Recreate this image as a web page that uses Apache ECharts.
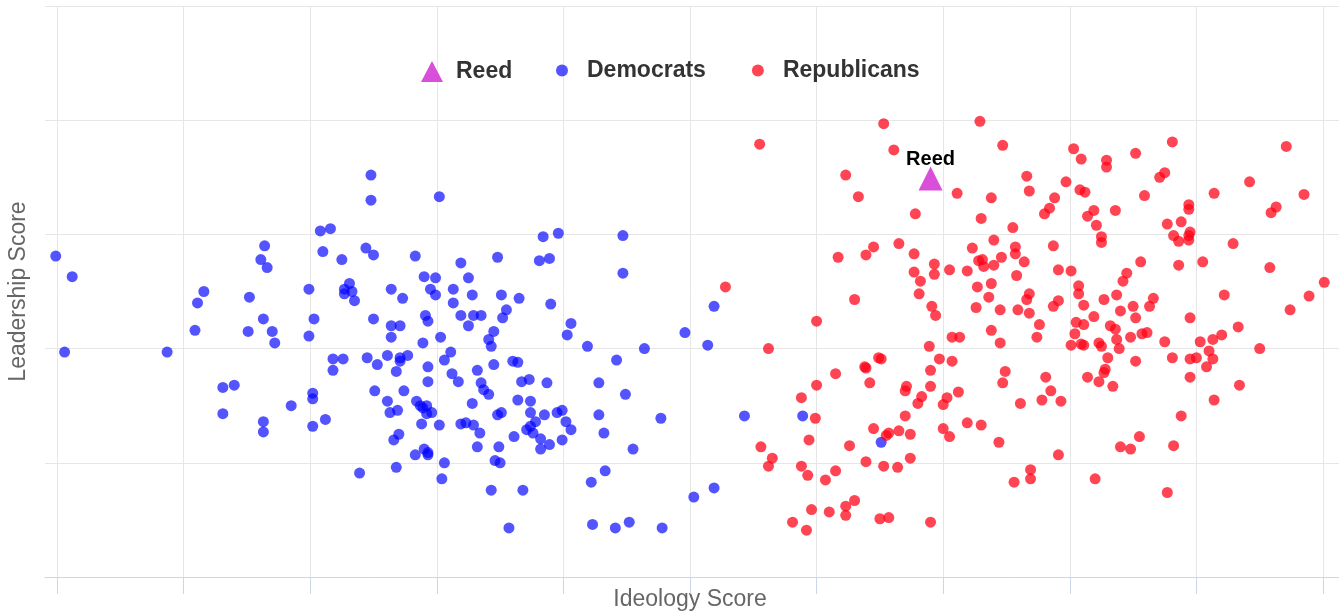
<!DOCTYPE html>
<html style="height: 100%">
<head>
<meta charset="utf-8">
</head>
<body style="height: 100%; margin: 0; background: #fff">
<div id="container" style="width: 1339px; height: 613px"></div>
<script type="text/javascript" src="https://cdn.jsdelivr.net/npm/echarts@6/dist/echarts.min.js"></script>
<script type="text/javascript">

// [ideology, leadership] pairs
var reed = [[6.90, 3.49]];

var democrats = [
    [-0.01,2.81],[0.12,2.63],[0.06,1.97],[0.87,1.97],[1.64,2.90],[1.61,2.78],[1.66,2.71],[1.16,2.50],[1.11,2.40],[1.52,2.45],
    [1.63,2.26],[1.09,2.16],[1.51,2.15],[1.70,2.15],[1.72,2.05],[1.99,2.52],[1.99,2.11],[1.31,1.66],[1.40,1.68],[1.31,1.43],
    [1.85,1.50],[1.63,1.36],[1.63,1.27],[2.02,1.56],[2.02,1.32],[2.03,2.26],[2.48,3.52],[2.48,3.30],[3.02,3.33],[2.08,3.03],
    [2.16,3.05],[2.10,2.85],[2.44,2.88],[2.50,2.82],[2.25,2.78],[2.83,2.81],[3.19,2.75],[2.90,2.63],[2.99,2.62],[3.25,2.62],
    [2.31,2.57],[2.27,2.52],[2.33,2.50],[2.27,2.48],[2.35,2.42],[2.64,2.52],[2.73,2.44],[2.95,2.52],[2.99,2.47],[3.13,2.52],
    [3.28,2.47],[3.13,2.40],[2.50,2.26],[2.64,2.20],[2.71,2.20],[2.64,2.10],[2.91,2.29],[2.93,2.24],[3.19,2.29],[3.25,2.20],
    [3.29,2.29],[2.89,2.05],[3.03,2.10],[2.18,1.91],[2.26,1.91],[2.18,1.81],[2.45,1.92],[2.53,1.86],[2.61,1.94],[2.71,1.92],
    [2.71,1.89],[2.77,1.94],[2.68,1.80],[2.93,1.84],[2.93,1.71],[3.11,1.97],[3.06,1.90],[3.12,1.78],[3.17,1.71],[3.32,1.81],
    [2.02,1.61],[2.51,1.63],[2.74,1.63],[2.61,1.54],[2.63,1.44],[2.69,1.46],[2.84,1.54],[2.87,1.50],[2.92,1.50],[2.89,1.48],
    [2.92,1.43],[2.96,1.44],[2.88,1.34],[3.02,1.33],[3.28,1.52],[3.19,1.34],[3.23,1.35],[3.29,1.33],[2.12,1.38],[2.70,1.25],
    [2.66,1.20],[3.32,1.14],[2.83,1.07],[2.90,1.12],[2.93,1.09],[2.93,1.07],[3.06,1.00],[3.04,0.86],[2.39,0.91],[2.68,0.96],
    [3.84,2.98],[3.96,3.01],[4.47,2.99],[3.48,2.80],[3.81,2.77],[3.89,2.79],[4.47,2.66],[3.51,2.47],[3.65,2.44],[5.19,2.37],
    [3.90,2.39],[3.55,2.34],[3.52,2.27],[3.35,2.29],[3.45,2.15],[3.41,2.08],[3.43,2.02],[4.06,2.22],[4.03,2.12],[4.19,2.02],
    [4.64,2.00],[4.96,2.14],[5.14,2.03],[4.42,1.90],[3.60,1.89],[3.64,1.88],[3.45,1.86],[3.35,1.70],[3.37,1.64],[3.41,1.60],
    [3.67,1.71],[3.73,1.73],[3.87,1.70],[4.28,1.70],[4.49,1.60],[3.64,1.55],[3.74,1.54],[3.74,1.44],[3.48,1.42],[3.51,1.44],
    [3.85,1.42],[3.95,1.44],[3.99,1.46],[4.02,1.36],[4.06,1.29],[3.78,1.36],[3.74,1.32],[3.71,1.29],[3.76,1.26],[3.82,1.21],
    [3.89,1.16],[3.82,1.12],[3.99,1.20],[3.61,1.23],[3.34,1.26],[3.49,1.14],[3.46,1.02],[3.50,1.00],[4.28,1.42],[4.32,1.26],
    [4.77,1.39],[4.55,1.12],[5.43,1.41],[4.33,0.93],[4.22,0.83],[3.43,0.76],[3.68,0.76],[5.03,0.70],[5.19,0.78],[3.57,0.43],
    [4.23,0.46],[4.41,0.43],[4.52,0.48],[4.78,0.43],[5.89,1.41],[6.51,1.18]
];

var republicans = [
    [6.53,3.97],[5.55,3.79],[6.61,3.74],[6.23,3.52],[6.33,3.33],[6.78,3.18],[7.11,3.36],[6.17,2.80],[6.39,2.82],[6.45,2.89],
    [6.65,2.92],[6.77,2.83],[6.93,2.74],[7.05,2.69],[6.77,2.67],[6.82,2.59],[6.93,2.65],[6.81,2.48],[6.30,2.43],[6.91,2.37],
    [6.94,2.29],[6.00,2.24],[7.07,2.10],[7.13,2.10],[5.62,2.00],[6.89,2.02],[6.49,1.92],[6.51,1.91],[6.38,1.84],[6.39,1.83],
    [6.97,1.91],[7.07,1.89],[6.90,1.81],[6.15,1.78],[6.42,1.70],[6.00,1.68],[6.71,1.67],[6.70,1.63],[6.90,1.67],[6.83,1.58],
    [6.80,1.52],[5.88,1.57],[7.03,1.57],[7.00,1.51],[7.12,1.62],[5.99,1.39],[6.70,1.41],[6.45,1.30],[6.55,1.24],[6.57,1.26],
    [6.65,1.28],[6.74,1.25],[7.00,1.30],[7.05,1.23],[5.94,1.20],[5.56,1.14],[5.65,1.04],[5.62,0.97],[6.26,1.15],[5.88,0.97],
    [5.93,0.89],[6.07,0.85],[6.15,0.93],[6.39,1.01],[6.53,0.97],[6.64,0.96],[6.74,1.04],[5.96,0.59],[6.10,0.57],[6.23,0.62],
    [6.30,0.67],[6.23,0.54],[5.81,0.48],[5.92,0.41],[6.50,0.51],[6.57,0.52],[6.90,0.48],[5.28,2.54],[7.29,3.99],[7.47,3.78],
    [8.03,3.75],[8.09,3.66],[8.29,3.65],[8.29,3.59],[8.52,3.71],[7.66,3.51],[7.68,3.38],[7.97,3.46],[8.08,3.39],[8.12,3.37],
    [8.59,3.34],[7.38,3.32],[7.88,3.32],[7.84,3.23],[7.80,3.18],[8.19,3.21],[8.14,3.16],[8.36,3.21],[7.30,3.14],[7.55,3.06],
    [8.21,3.08],[8.25,2.98],[8.25,2.93],[7.40,2.95],[7.23,2.88],[7.57,2.89],[7.57,2.83],[7.87,2.90],[7.28,2.77],[7.31,2.78],
    [7.32,2.72],[7.46,2.80],[7.40,2.73],[7.64,2.76],[7.19,2.68],[7.58,2.64],[7.91,2.69],[8.01,2.68],[8.56,2.76],[8.45,2.66],
    [8.42,2.59],[7.27,2.54],[7.38,2.57],[7.36,2.45],[7.68,2.48],[7.66,2.43],[8.07,2.55],[8.07,2.48],[8.37,2.47],[8.27,2.43],
    [7.91,2.42],[7.87,2.37],[7.26,2.36],[7.45,2.34],[7.59,2.34],[7.68,2.31],[8.11,2.38],[8.50,2.37],[8.66,2.44],[8.63,2.37],
    [8.40,2.33],[8.52,2.27],[8.19,2.28],[7.76,2.21],[8.05,2.23],[8.11,2.21],[8.32,2.20],[8.36,2.17],[7.38,2.16],[7.45,2.05],
    [7.74,2.10],[8.04,2.13],[8.01,2.03],[8.09,2.04],[8.11,2.03],[8.23,2.05],[8.25,2.02],[8.37,2.08],[8.39,2.00],[8.48,2.10],
    [8.57,2.13],[8.61,2.14],[8.30,1.92],[8.52,1.89],[8.28,1.82],[8.27,1.79],[8.14,1.75],[8.23,1.71],[8.34,1.67],[7.49,1.80],
    [7.47,1.70],[7.81,1.75],[7.85,1.63],[7.78,1.55],[7.93,1.54],[7.61,1.52],[7.19,1.35],[7.30,1.33],[7.44,1.18],[7.91,1.07],
    [8.40,1.14],[8.48,1.12],[8.55,1.23],[7.69,0.94],[7.69,0.86],[7.56,0.83],[8.20,0.86],[8.81,3.81],[9.71,3.77],[8.75,3.54],
    [8.71,3.50],[9.42,3.46],[9.14,3.36],[9.85,3.35],[8.94,3.26],[8.94,3.22],[9.63,3.24],[9.59,3.19],[8.77,3.09],[8.88,3.11],
    [8.82,2.99],[8.86,2.94],[8.94,2.99],[8.95,3.02],[8.94,2.95],[9.29,2.92],[8.86,2.73],[9.05,2.76],[9.58,2.71],[10.01,2.58],
    [9.89,2.46],[9.74,2.34],[9.22,2.47],[8.95,2.27],[9.33,2.19],[8.75,2.06],[9.03,2.06],[9.13,2.08],[9.20,2.12],[9.50,2.00],
    [8.81,1.92],[8.95,1.91],[9.00,1.92],[9.10,1.98],[9.13,1.91],[9.08,1.84],[8.95,1.75],[9.34,1.68],[9.14,1.55],[8.88,1.41],
    [8.82,1.15],[8.77,0.74]
];

var xRange = [0, 10];
var yRange = [0, 5];

var dom = document.getElementById('container');
var myChart = echarts.init(dom);

var font = 'Liberation Sans';
var gridColor = '#e6e6e6';
var axisColor = '#ccd6eb';

var option = {
    animation: false,
    textStyle: { fontFamily: font },
    legend: [
        {
            data: [{ name: 'Reed', icon: 'triangle' }],
            left: 416, top: 55,
            itemWidth: 22, itemHeight: 21,
            selectedMode: false,
            textStyle: { fontSize: 23, fontWeight: 'bold', color: '#333', padding: [0, 0, 0, 8] }
        },
        {
            data: ['Democrats', 'Republicans'],
            left: 551, top: 54,
            itemWidth: 12, itemHeight: 12, itemGap: 46,
            selectedMode: false,
            textStyle: { fontSize: 23, fontWeight: 'bold', color: '#333', padding: [0, 0, 0, 14] }
        }
    ],
    grid: [
        // outer grid: horizontal lines and base line
        { left: 45, right: 0, top: 6, bottom: 36, outerBoundsMode: 'none' },
        // data grid
        { left: 57, right: 16, top: 6, bottom: 36, outerBoundsMode: 'none' }
    ],
    xAxis: [
        {
            gridIndex: 0, type: 'value', min: 0, max: 1,
            axisLine: { show: true, lineStyle: { color: axisColor } },
            axisTick: { show: false }, axisLabel: { show: false }, splitLine: { show: false }
        },
        {
            gridIndex: 1, type: 'value', min: xRange[0], max: xRange[1], interval: 1,
            name: 'Ideology Score', nameLocation: 'middle', nameGap: 11,
            nameTextStyle: { fontSize: 23, color: '#666' },
            axisLine: { show: false },
            axisTick: { show: true, inside: false, length: 17, lineStyle: { color: axisColor } },
            axisLabel: { show: false },
            splitLine: { show: true, lineStyle: { color: gridColor } }
        }
    ],
    yAxis: [
        {
            gridIndex: 0, type: 'value', min: yRange[0], max: yRange[1], interval: 1,
            name: 'Leadership Score', nameLocation: 'middle', nameGap: 15,
            nameTextStyle: { fontSize: 23, color: '#666' },
            axisLine: { show: false }, axisTick: { show: false }, axisLabel: { show: false },
            splitLine: { show: true, lineStyle: { color: gridColor } }
        },
        {
            gridIndex: 1, type: 'value', min: yRange[0], max: yRange[1], interval: 1,
            axisLine: { show: false }, axisTick: { show: false }, axisLabel: { show: false },
            splitLine: { show: false }
        }
    ],
    series: [
        {
            name: 'Reed', type: 'scatter', xAxisIndex: 1, yAxisIndex: 1,
            symbol: 'triangle', symbolSize: [24, 24], z: 5, clip: false,
            itemStyle: { color: '#d94fd9', opacity: 1 },
            label: {
                show: true, position: 'top', distance: -3, formatter: 'Reed',
                fontSize: 20, fontWeight: 'bold', color: '#000',
                textBorderColor: '#fff', textBorderWidth: 2
            },
            data: reed
        },
        {
            name: 'Democrats', type: 'scatter', xAxisIndex: 1, yAxisIndex: 1,
            symbol: 'circle', symbolSize: 11, clip: false,
            itemStyle: { color: 'rgba(0, 0, 255, 0.67)', opacity: 1 },
            data: democrats
        },
        {
            name: 'Republicans', type: 'scatter', xAxisIndex: 1, yAxisIndex: 1,
            symbol: 'circle', symbolSize: 11, clip: false,
            itemStyle: { color: 'rgba(255, 0, 20, 0.73)', opacity: 1 },
            data: republicans
        }
    ]
};

if (option && typeof option === 'object') {
    myChart.setOption(option);
}

</script>
</body>
</html>
